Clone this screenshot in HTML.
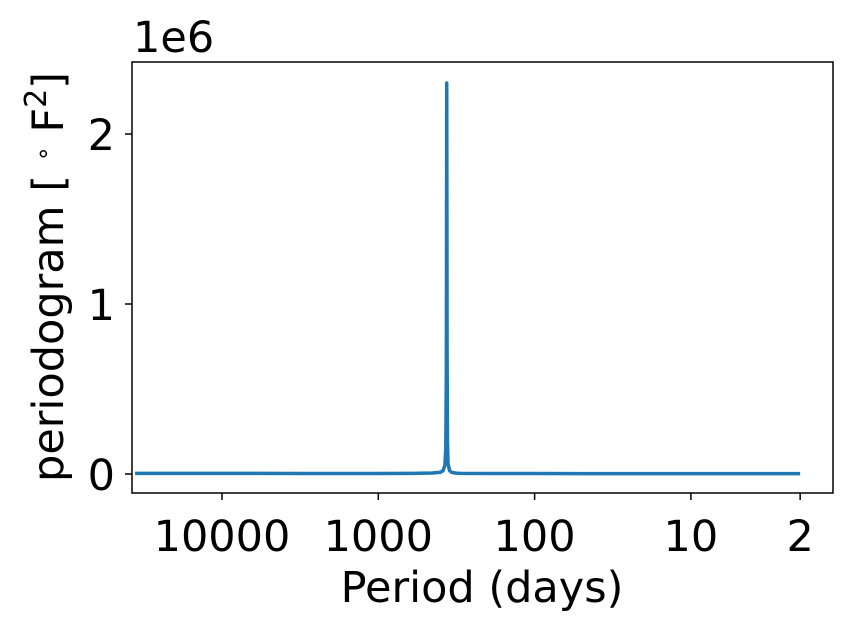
<!DOCTYPE html>
<html><head><meta charset="utf-8"><style>
body{margin:0;background:#fff;}
svg text{font-family:"DejaVu Sans","Liberation Sans",sans-serif;fill:#000;}
</style></head><body>
<svg id="chart" width="852" height="631" viewBox="0 0 852 631">
<rect x="0" y="0" width="852" height="631" fill="#fff"/>
<g id="plot"></g>
<rect x="132" y="62" width="701" height="431" fill="none" stroke="#000" stroke-width="1.5"/>
<g id="axes"></g>
<text x="482" y="602" font-size="43" text-anchor="middle">Period (days)</text>
<text transform="translate(63,277) rotate(-90)" font-size="43" text-anchor="middle">periodogram [ <tspan font-size="24" dy="-12">∘</tspan><tspan dy="12"> F</tspan><tspan dy="-17" font-size="30">2</tspan><tspan dy="17">]</tspan></text>
<text x="133" y="52" font-size="43">1e6</text>
</svg>
<script>
const periods=[36000,20000,10000,3000,1000,600,450,400,385,375,370,367,366,365,364,363,361,358,350,340,320,300,200,100,50,20,10,5,2];
const values=[0.004,0.004,0.004,0.003,0.003,0.004,0.006,0.01,0.02,0.05,0.15,0.6,1.4,2.3,1.6,0.7,0.2,0.06,0.02,0.01,0.005,0.004,0.003,0.003,0.002,0.002,0.002,0.002,0.002];
const xTicks=[10000,1000,100,10,2];
const xTickLabels=["10000","1000","100","10","2"];
const yTicks=[0,1,2];
const yTickLabels=["0","1","2"];
const NS="http://www.w3.org/2000/svg";
function xs(p){return 222+156.3*(Math.log10(1/p)+4);}
function ys(v){return 474-170*v;}
const plot=document.getElementById('plot'),axes=document.getElementById('axes');
const line=document.createElementNS(NS,'path');
line.setAttribute('d',periods.map((p,i)=>(i?'L':'M')+xs(p).toFixed(2)+','+ys(values[i]).toFixed(2)).join(''));
line.setAttribute('fill','none');line.setAttribute('stroke','#1f77b4');line.setAttribute('stroke-width','3.5');line.setAttribute('stroke-linejoin','round');


plot.appendChild(line);
xTicks.forEach((t,i)=>{const x=xs(t);
const l=document.createElementNS(NS,'line');l.setAttribute('x1',x);l.setAttribute('x2',x);l.setAttribute('y1',493);l.setAttribute('y2',500);l.setAttribute('stroke','#000');l.setAttribute('stroke-width','1.5');


axes.appendChild(l);
const tx=document.createElementNS(NS,'text');tx.setAttribute('x',x);tx.setAttribute('y',551);tx.setAttribute('font-size','43');tx.setAttribute('text-anchor','middle');tx.textContent=xTickLabels[i];


axes.appendChild(tx);});
yTicks.forEach((t,i)=>{const y=ys(t);
const l=document.createElementNS(NS,'line');l.setAttribute('x1',125);l.setAttribute('x2',132);l.setAttribute('y1',y);l.setAttribute('y2',y);l.setAttribute('stroke','#000');l.setAttribute('stroke-width','1.5');


axes.appendChild(l);
const tx=document.createElementNS(NS,'text');tx.setAttribute('x',115);tx.setAttribute('y',y+16);tx.setAttribute('font-size','43');tx.setAttribute('text-anchor','end');tx.textContent=yTickLabels[i];


axes.appendChild(tx);});
</script>
</body></html>
